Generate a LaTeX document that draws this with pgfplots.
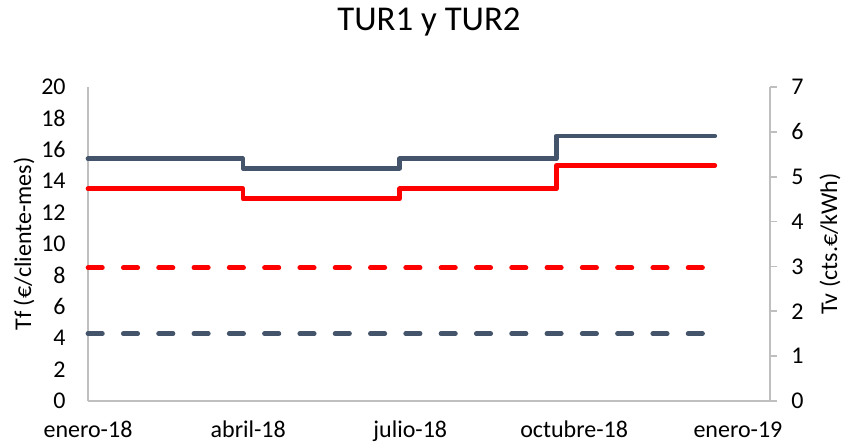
\documentclass[border=0pt]{standalone}
\usepackage{fontspec}
\setmainfont{Carlito}
\usepackage{pgfplots}
\pgfplotsset{compat=1.18}
\definecolor{tur1}{HTML}{44546A}
\definecolor{tur2}{HTML}{FF0000}
\definecolor{axgray}{HTML}{BFBFBF}

\begin{document}
\begin{tikzpicture}
\useasboundingbox (-44pt,-20pt) rectangle (377pt,200.5pt);
\pgfplotsset{common/.style={
  at={(0,0)}, anchor=south west, scale only axis,
  width=341pt, height=157pt,
  xmin=0, xmax=383, clip=false,
  /pgf/number format/assume math mode=true,
  tick label style={font=\fontsize{12}{14}\selectfont},
  label style={font=\fontsize{12}{14}\selectfont},
  axis line style={axgray, line width=0.8pt},
}}
% Left axis: Tf (dashed)
\begin{axis}[common,
  axis x line*=bottom, axis y line*=left,
  ymin=0, ymax=20, ytick={0,2,...,20},
  xtick={0,90,181,273,365},
  xticklabels={enero-18,abril-18,julio-18,octubre-18,enero-19},
  major tick length=0pt,
  xticklabel style={anchor=base, yshift=-18pt, inner sep=0pt},
  yticklabel style={anchor=east, inner sep=0pt, xshift=-11pt},
  ylabel={Tf (€/cliente-mes)},
  ylabel style={at={(axis description cs:-0.0938,0.5)}, anchor=center},
  title={TUR1 y TUR2},
  title style={at={(axis description cs:0.5,1)}, anchor=base, yshift=22.5pt,
    font=\fontsize{17.4}{20}\selectfont},
]
\addplot[tur2, line width=2.35pt, line cap=round, dash pattern=on 7.2pt off 10.45pt]
  coordinates {(0,8.49) (352,8.49)};
\addplot[tur1, line width=2.35pt, line cap=round, dash pattern=on 7.2pt off 10.45pt]
  coordinates {(0,4.29) (352,4.29)};
\end{axis}
% Right axis: Tv (solid)
\begin{axis}[common,
  axis x line=none, axis y line*=right,
  ymin=0, ymax=7, ytick={0,1,...,7},
  tick align=outside, major tick length=3.5pt,
  ytick style={axgray, line width=0.8pt},
  yticklabel style={anchor=west, inner sep=0pt, xshift=7pt},
  ylabel={Tv (cts.€/kWh)},
  ylabel style={at={(axis description cs:1.088,0.5)}, anchor=center, rotate=0},
]
\addplot[tur1, line width=2.35pt, line cap=round, line join=round, const plot]
  coordinates {(0,5.40) (87,5.19) (175,5.40) (263,5.91) (352,5.91)};
\addplot[tur2, line width=2.35pt, line cap=round, line join=round, const plot]
  coordinates {(0,4.73) (87,4.51) (175,4.73) (263,5.25) (352,5.25)};
\end{axis}
\end{tikzpicture}
\end{document}
